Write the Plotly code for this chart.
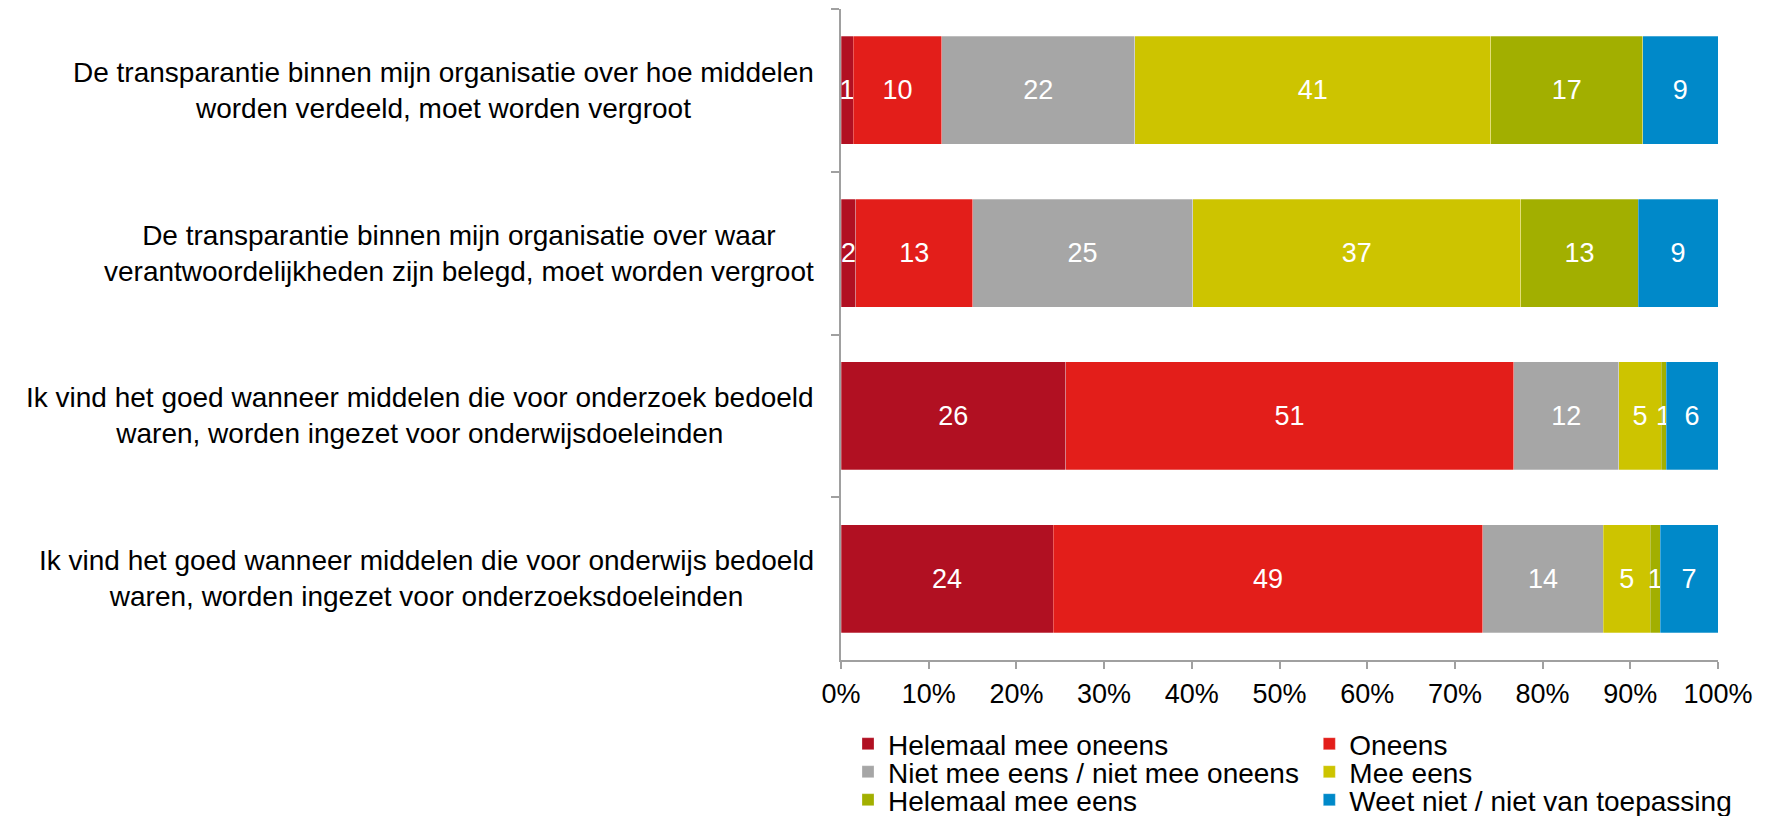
import plotly.graph_objects as go

categories = [
    "De transparantie binnen mijn organisatie over hoe middelen<br>worden verdeeld, moet worden vergroot",
    "De transparantie binnen mijn organisatie over waar<br>verantwoordelijkheden zijn belegd, moet worden vergroot",
    "Ik vind het goed wanneer middelen die voor onderzoek bedoeld<br>waren, worden ingezet voor onderwijsdoeleinden",
    "Ik vind het goed wanneer middelen die voor onderwijs bedoeld<br>waren, worden ingezet voor onderzoeksdoeleinden",
]
cat_ids = ["Q1", "Q2", "Q3", "Q4"]

series_names = [
    "Helemaal mee oneens",
    "Oneens",
    "Niet mee eens / niet mee oneens",
    "Mee eens",
    "Helemaal mee eens",
    "Weet niet / niet van toepassing",
]
helemaal_oneens = [1.4, 1.7, 25.6, 24.2]
oneens = [10.1, 13.3, 51.1, 49.0]
neutraal = [22.0, 25.1, 12.0, 13.7]
mee_eens = [40.6, 37.4, 4.8, 5.4]
helemaal_eens = [17.3, 13.4, 0.6, 1.1]
weet_niet = [8.6, 9.1, 5.9, 6.6]
series_values = [helemaal_oneens, oneens, neutraal, mee_eens, helemaal_eens, weet_niet]

colors = ["#B11022", "#E31E1A", "#A6A6A6", "#CDC400", "#A2AF00", "#0089C9"]

tick_vals = [0, 10, 20, 30, 40, 50, 60, 70, 80, 90, 100]
tick_text = ["0%", "10%", "20%", "30%", "40%", "50%", "60%", "70%", "80%", "90%", "100%"]

FONT = "Liberation Sans, Arial, sans-serif"

fig = go.Figure()
legend_ids = ["legend", "legend2", "legend3", "legend4", "legend5", "legend6"]
for name, vals, col, lg in zip(series_names, series_values, colors, legend_ids):
    fig.add_trace(go.Bar(
        y=cat_ids, x=vals, name=name, orientation="h",
        marker=dict(color=col, line=dict(width=0.6, color="rgba(255,255,255,0.45)")),
        texttemplate="%{x:.0f}", textposition="inside", insidetextanchor="middle",
        constraintext="none",
        textfont=dict(color="white", size=27, family=FONT),
        legend=lg,
    ))

# category labels (centered multi-line text, right edge next to axis)
for cid, label in zip(cat_ids, categories):
    fig.add_annotation(
        x=0, xref="paper", y=cid, yref="y", text=label, showarrow=False,
        xanchor="right", yanchor="middle", align="center", xshift=-25,
        font=dict(size=28, family=FONT, color="black"),
    )

# legend placement: two columns, three rows
def px_to_paper_y(py):
    return (660 - py) / 651.0

leg_x = [0.008, 0.534]
leg_rows = [744, 772, 800]
legend_layout = {}
for i, lg in enumerate(legend_ids):
    col = i % 2
    row = i // 2
    legend_layout[lg] = dict(
        x=leg_x[col], xanchor="left", y=px_to_paper_y(leg_rows[row]), yanchor="middle",
        orientation="v", bgcolor="rgba(0,0,0,0)", borderwidth=0,
        font=dict(size=28, family=FONT, color="black"),
        itemwidth=30,
    )

fig.update_layout(
    barmode="stack",
    bargap=0.336,
    width=1772, height=816,
    margin=dict(l=841, r=54, t=9, b=156, autoexpand=False),
    plot_bgcolor="white", paper_bgcolor="white",
    font=dict(family=FONT, size=26, color="black"),
    showlegend=True,
    **legend_layout,
)

fig.update_xaxes(
    range=[0, 100], tickmode="array", tickvals=tick_vals, ticktext=tick_text,
    showgrid=False, zeroline=False, showline=True, linecolor="#A0A0A0", linewidth=1.5,
    ticks="outside", ticklen=7, tickcolor="#A0A0A0", tickwidth=1.5,
    tickfont=dict(size=27, family=FONT, color="black"),
    ticklabelstandoff=2,
)
fig.update_yaxes(
    type="category", categoryorder="array", categoryarray=cat_ids,
    range=[3.5, -0.5], tickson="boundaries",
    showgrid=False, zeroline=False, showline=True, linecolor="#A0A0A0", linewidth=1.5,
    ticks="outside", ticklen=8, tickcolor="#A0A0A0", tickwidth=1.5,
    showticklabels=False,
)

fig.write_html(
    "out.html",
    config={"displayModeBar": False},
    post_script="document.body.style.margin='0';document.body.style.overflow='hidden';",
)
